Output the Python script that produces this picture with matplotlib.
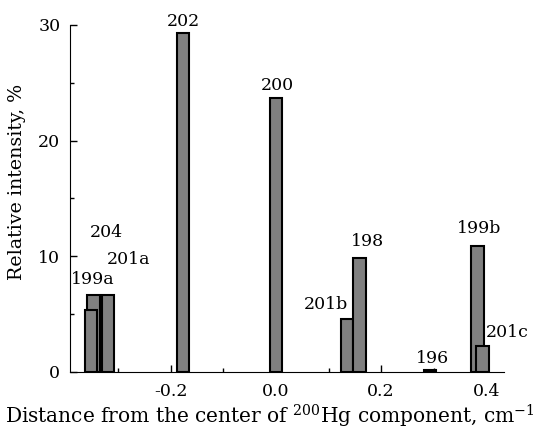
import matplotlib
matplotlib.use("Agg")
import matplotlib.pyplot as plt
import numpy as np

# isotope components: position (cm-1) and relative intensity (%)
names = ["204", "199a", "201a", "202", "200", "201b", "198", "196", "199b", "201c"]
pos = [-0.347, -0.352, -0.320, -0.177, 0.0, 0.135, 0.159, 0.293, 0.383, 0.393]
inten = [6.7, 5.4, 6.7, 29.3, 23.7, 4.6, 9.85, 0.15, 10.9, 2.25]

# where the labels sit (data coords)
lab_x = [-0.322, -0.349, -0.280, -0.177, 0.002, 0.095, 0.175, 0.297, 0.386, 0.440]
lab_y = [12.1, 8.0, 9.7, 30.3, 24.8, 5.8, 11.3, 1.2, 12.4, 3.45]

plt.rcParams['font.family'] = 'DejaVu Serif'
plt.rcParams['mathtext.fontset'] = 'dejavuserif'
plt.rcParams['axes.unicode_minus'] = False
fs = 12.5

fig = plt.figure(figsize=(5.39, 4.29), dpi=100)
ax = fig.add_axes([70/539, 57/429, 434/539, 347/429])

ax.bar(pos, inten, width=0.024, color='#808080', edgecolor='black', linewidth=1.5, zorder=2)

for n, x, y in zip(names, lab_x, lab_y):
    ax.text(x, y, n, ha='center', va='center', fontsize=fs)

ax.set_xlim(-0.392, 0.434)
ax.set_ylim(0, 30)
ax.spines['top'].set_visible(False)
ax.spines['right'].set_visible(False)
ax.set_xticks([-0.2, 0.0, 0.2, 0.4])
ax.set_xticklabels(["-0.2", "0.0", "0.2", "0.4"])
ax.set_xticks([-0.3, -0.1, 0.1, 0.3], minor=True)
ax.set_yticks([0, 10, 20, 30])
ax.set_yticks([5, 15, 25], minor=True)
ax.tick_params(direction='in', labelsize=fs, length=5, width=1)
ax.tick_params(which='minor', direction='in', length=3, width=1)
ax.tick_params(axis='x', pad=8)
ax.tick_params(axis='y', pad=7)

fig.text(0.5, 5/429, r"Distance from the center of $^{200}$Hg component, cm$^{-1}$",
         ha='center', va='baseline', fontsize=14.5)
fig.text(17/539, 1 - 182/429, "Relative intensity, %", rotation=90,
         ha='center', va='center', fontsize=13.7)

fig.savefig("out.png", dpi=100)
